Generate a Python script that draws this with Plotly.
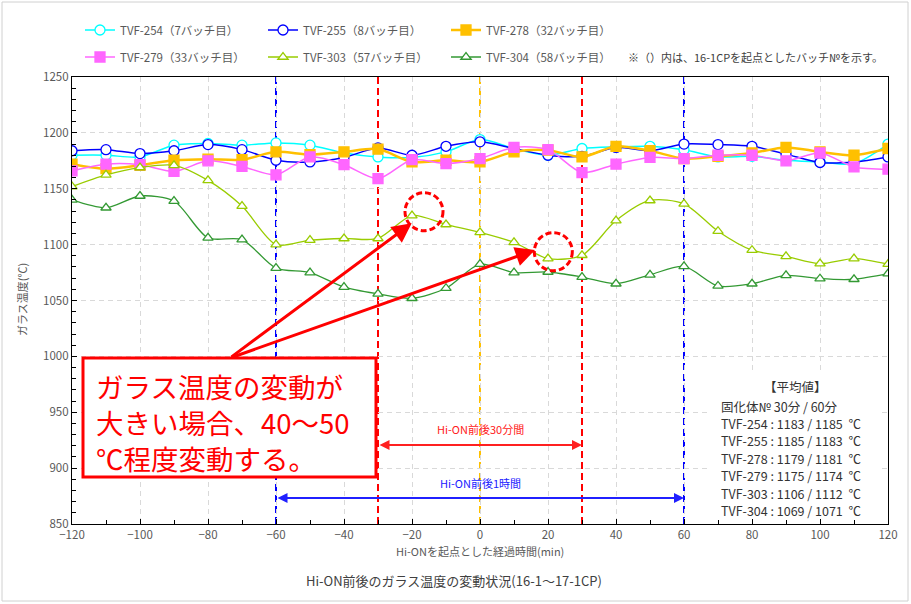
import plotly.graph_objects as go

# --- data -----------------------------------------------------------------
minutes = [-120, -110, -100, -90, -80, -70, -60, -50, -40, -30, -20, -10, 0,
           10, 20, 30, 40, 50, 60, 70, 80, 90, 100, 110, 120]

tvf254 = [1180, 1180, 1178.5, 1189, 1190.5, 1189, 1191, 1189, 1182, 1178.5, 1178, 1183, 1194,
          1186, 1180, 1186, 1187.5, 1188, 1185, 1178.5, 1179, 1175.5, 1174, 1172.5, 1190]
tvf255 = [1184, 1185, 1181.5, 1184, 1189.5, 1185, 1175.5, 1174, 1178, 1186.5, 1180, 1188, 1192,
          1186, 1180, 1179, 1187, 1184, 1190, 1189.5, 1188, 1181, 1173.5, 1174, 1178.5]
tvf278 = [1172, 1168, 1171, 1175.5, 1176.5, 1176, 1183, 1180.5, 1183, 1185.5, 1174, 1175.5, 1174,
          1183, 1184.5, 1178.5, 1188, 1184, 1177, 1179, 1182, 1187, 1183, 1180, 1186]
tvf279 = [1166, 1172, 1171.5, 1165.5, 1175, 1170, 1162.5, 1178.5, 1171.5, 1159, 1176, 1172.5, 1177,
          1187, 1185, 1164.5, 1172, 1178, 1177, 1180, 1180, 1175, 1182, 1169.5, 1167.5]
tvf303 = [1152, 1162.5, 1169, 1171, 1157.5, 1134.5, 1100, 1104, 1105.5, 1105.5, 1126, 1118, 1111,
          1102, 1087.5, 1090.5, 1121.5, 1139.5, 1136.5, 1112, 1095, 1089.5, 1083, 1087.5, 1082.5]
tvf304 = [1140, 1133, 1143.5, 1139, 1106, 1104.5, 1079, 1075, 1062, 1056, 1052, 1061, 1082.5,
          1075, 1075.5, 1071, 1065, 1073, 1080.5, 1063, 1065, 1072.5, 1069.5, 1069, 1074]

series_names = ["TVF-254（7バッチ目）", "TVF-255（8バッチ目）", "TVF-278（32バッチ目）",
                "TVF-279（33バッチ目）", "TVF-303（57バッチ目）", "TVF-304（58バッチ目）"]
series_values = [tvf254, tvf255, tvf278, tvf279, tvf303, tvf304]

avg_ids = ["TVF-254", "TVF-255", "TVF-278", "TVF-279", "TVF-303", "TVF-304"]
avg_30 = [1183, 1185, 1179, 1175, 1106, 1069]
avg_60 = [1185, 1183, 1181, 1174, 1112, 1071]

x_ticks = list(range(-120, 121, 20))
y_ticks = list(range(850, 1251, 50))

# --- styling ----------------------------------------------------------------
W, H = 911, 604
L_PX, R_PX, T_PX, B_PX = 72, 888, 77, 524
FONT = "Noto Sans CJK JP"
GRAY = "#595959"

styles = [
    dict(color="#00FFFF", symbol="circle", fill="white", size=10, width=1.5),
    dict(color="#0000FF", symbol="circle", fill="white", size=10, width=1.5),
    dict(color="#FFC000", symbol="square", fill="#FFC000", size=10, width=2.5),
    dict(color="#FF66FF", symbol="square", fill="#FF66FF", size=10, width=1.5),
    dict(color="#99CC00", symbol="triangle-up", fill="white", size=9, width=1.3),
    dict(color="#339933", symbol="triangle-up", fill="white", size=9, width=1.3),
]


def dx(px):
    return -120 + (px - L_PX) * 240 / (R_PX - L_PX)


def dy(py):
    return 850 + (B_PX - py) * 400 / (B_PX - T_PX)


def pxp(px):
    return (px - L_PX) / (R_PX - L_PX)


def pyp(py):
    return (B_PX - py) / (B_PX - T_PX)


fig = go.Figure()

for i, (name, vals) in enumerate(zip(series_names, series_values)):
    st = styles[i]
    fig.add_trace(go.Scatter(
        x=minutes, y=vals, name=name,
        mode="lines+markers",
        line=dict(color=st["color"], width=st["width"], shape="spline", smoothing=0.8),
        marker=dict(symbol=st["symbol"], size=st["size"], color=st["fill"],
                    line=dict(color=st["color"], width=1.3)),
        legend="legend" if i < 3 else "legend2",
        hoverinfo="skip",
    ))

# vertical reference lines
vlines = [(-60, "#0000FF"), (60, "#0000FF"), (-30, "#FF0000"), (30, "#FF0000"), (0, "#FFC000")]
shapes = []
for xv, col in vlines:
    shapes.append(dict(type="line", xref="x", yref="paper", x0=xv, x1=xv, y0=0, y1=1,
                       line=dict(color=col, width=2, dash="7px,4px"), layer="between"))

# dashed circles
for cx, cy in [(424, 211.7), (553.3, 251.7)]:
    r = 19
    shapes.append(dict(type="circle", xref="x", yref="y",
                       x0=dx(cx - r), x1=dx(cx + r), y0=dy(cy + r), y1=dy(cy - r),
                       line=dict(color="#FF0000", width=3, dash="6px,3px")))

# white panel behind average block
shapes.append(dict(type="rect", xref="x", yref="y", x0=dx(707), x1=dx(880),
                   y0=dy(520), y1=dy(373), fillcolor="white", line=dict(width=0),
                   layer="between"))

# callout box
shapes.append(dict(type="rect", xref="x", yref="y", x0=dx(83), x1=dx(376),
                   y0=dy(477), y1=dy(358), fillcolor="white",
                   line=dict(color="#FF0000", width=3), layer="above"))

# outer border
shapes.append(dict(type="rect", xref="paper", yref="paper",
                   x0=pxp(2), x1=pxp(908), y0=pyp(601), y1=pyp(2),
                   line=dict(color="#D0D0D0", width=1)))

annotations = []
# arrows from callout box
for tx, ty in [(411.7, 223.3), (535, 250)]:
    annotations.append(dict(x=dx(tx), y=dy(ty), ax=dx(230), ay=dy(358),
                            xref="x", yref="y", axref="x", ayref="y",
                            showarrow=True, arrowhead=2, arrowsize=1.3, arrowwidth=3,
                            arrowcolor="#FF0000", text=""))

# callout text
annotations.append(dict(
    x=dx(94), y=dy(422), xref="x", yref="y", xanchor="left", yanchor="middle",
    showarrow=False,
    text="ガラス温度の変動が<br>大きい場合、40～50<br>℃程度変動する。",
    align="left", font=dict(family=FONT, size=27.5, color="#FF0000"),
))

# span arrows
for x0, x1, ytext, yarr, col, label in [
    (-30, 30, 429, 445, "#FF2020", "Hi-ON前後30分間"),
    (-60, 60, 483, 498, "#2020FF", "Hi-ON前後1時間"),
]:
    annotations.append(dict(x=x1, y=dy(yarr), ax=x0, ay=dy(yarr), xref="x", yref="y",
                            axref="x", ayref="y", showarrow=True, arrowhead=2,
                            arrowside="end+start", arrowsize=1, arrowwidth=2,
                            arrowcolor=col, text=""))
    annotations.append(dict(x=0, y=dy(ytext), xref="x", yref="y", showarrow=False,
                            xanchor="center", yanchor="middle",
                            text=label, font=dict(family=FONT, size=11, color=col)))

# average block
annotations.append(dict(x=dx(795), y=dy(386), xref="x", yref="y", showarrow=False,
                        xanchor="center", yanchor="middle",
                        text="【平均値】", font=dict(family=FONT, size=12.5, color="#333333")))
avg_lines = ["固化体№ 30分 / 60分"] + [
    f"{n} : {a} / {b}  ℃" for n, a, b in zip(avg_ids, avg_30, avg_60)]
for k, line in enumerate(avg_lines):
    annotations.append(dict(x=dx(719), y=dy(406 + 17.4 * k), xref="x", yref="y",
                            xanchor="left", yanchor="middle", showarrow=False, text=line,
                            font=dict(family=FONT, size=12.5, color="#333333")))

# note
annotations.append(dict(x=pxp(626), y=pyp(57), xref="paper", yref="paper",
                        xanchor="left", yanchor="middle",
                        showarrow=False, text="※（）内は、16-1CPを起点としたバッチ№を示す。",
                        font=dict(family=FONT, size=11, color="#404040")))

# axis titles and chart title
annotations.append(dict(x=pxp(22), y=pyp(300), xref="paper", yref="paper", showarrow=False,
                        xanchor="center", yanchor="middle",
                        textangle=-90, text="ガラス温度(℃)",
                        font=dict(family=FONT, size=11, color=GRAY)))
annotations.append(dict(x=pxp(480), y=pyp(551), xref="paper", yref="paper", showarrow=False,
                        xanchor="center", yanchor="middle",
                        text="Hi-ONを起点とした経過時間(min)",
                        font=dict(family=FONT, size=11, color=GRAY)))
annotations.append(dict(x=pxp(454), y=pyp(580), xref="paper", yref="paper", showarrow=False,
                        xanchor="center", yanchor="middle",
                        text="Hi-ON前後のガラス温度の変動状況(16-1～17-1CP)",
                        font=dict(family=FONT, size=13, color="#404040")))

legend_common = dict(orientation="h", xanchor="left", yanchor="middle",
                     entrywidth=138, entrywidthmode="pixels",
                     font=dict(family=FONT, size=11.5, color=GRAY),
                     bgcolor="rgba(0,0,0,0)",
                     itemclick=False, itemdoubleclick=False)

fig.update_layout(
    width=W, height=H,
    margin=dict(l=L_PX, r=W - R_PX, t=T_PX, b=H - B_PX, autoexpand=False),
    paper_bgcolor="white", plot_bgcolor="white",
    font=dict(family=FONT, color=GRAY),
    showlegend=True,
    legend=dict(x=pxp(80), y=pyp(30), **legend_common),
    legend2=dict(x=pxp(80), y=pyp(57), **legend_common),
    shapes=shapes,
    annotations=annotations,
    hovermode=False,
)
fig.update_xaxes(
    range=[-120, 120], tickvals=x_ticks, ticks="inside", ticklen=5, tickcolor="black",
    showline=True, linecolor="black", linewidth=1.3, mirror=True,
    showgrid=True, gridcolor="#D9D9D9", griddash="5px,4px", gridwidth=1,
    zeroline=False, tickfont=dict(family=FONT, size=11.5, color=GRAY),
    minor=dict(ticks="inside", dtick=10, ticklen=4, tickcolor="black", showgrid=False),
)
fig.update_yaxes(
    range=[850, 1250], tickvals=y_ticks, ticks="inside", ticklen=5, tickcolor="black",
    showline=True, linecolor="black", linewidth=1.3, mirror=True,
    showgrid=True, gridcolor="#D9D9D9", griddash="5px,4px", gridwidth=1,
    zeroline=False, tickfont=dict(family=FONT, size=11.5, color=GRAY),
    minor=dict(ticks="inside", dtick=10, ticklen=4, tickcolor="black", showgrid=False),
)

fig.write_html(
    "out.html",
    config={"displayModeBar": False},
    post_script="document.body.style.margin='0';document.body.style.overflow='hidden';",
)
